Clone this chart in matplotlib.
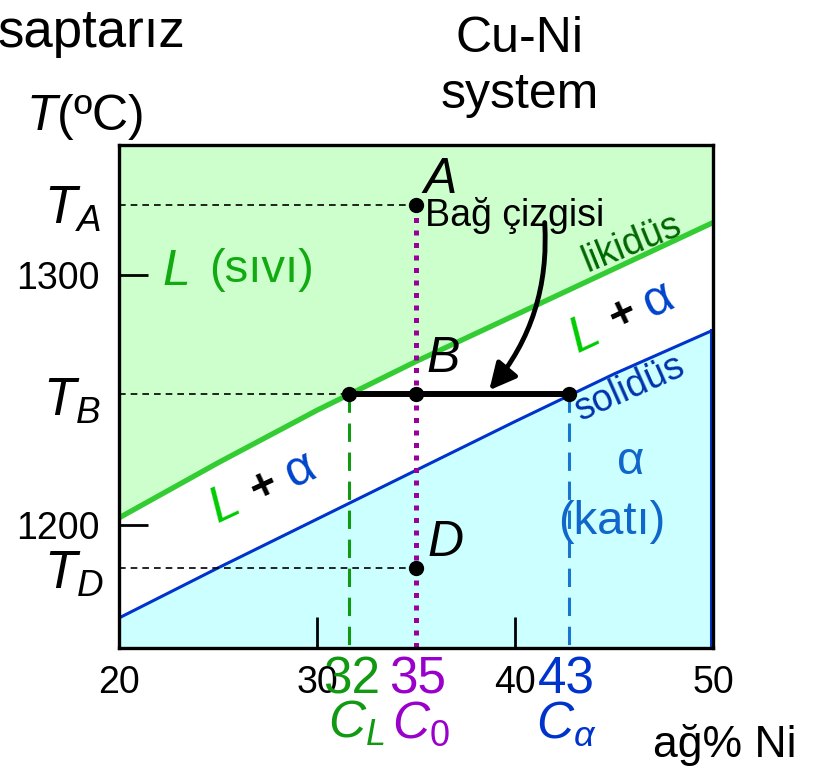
import matplotlib
matplotlib.use("Agg")
import matplotlib.pyplot as plt

plt.rcParams['font.family'] = ['Liberation Sans', 'DejaVu Sans']
plt.rcParams['mathtext.fontset'] = 'custom'
plt.rcParams['mathtext.rm'] = 'Liberation Sans'
plt.rcParams['mathtext.it'] = 'Liberation Sans:italic'

# Cu-Ni faz diyagrami verisi (ag% Ni, sicaklik C)
comp = [20, 25, 30, 35, 40, 45, 50]
liquidus = [1203, 1225, 1246, 1265.5, 1284, 1302.5, 1321]
solidus = [1163, 1183, 1202.5, 1222, 1241.5, 1260.5, 1278]

# bileşimler (cizimdeki konumlar) ve etiketleri
c_L, c_0, c_alpha = 31.6, 35, 42.75
comp_labels = ['32', '35', '43']
T_A, T_B, T_D = 1328, 1252.5, 1183

x_ticks = [20, 30, 40, 50]
y_ticks = [1200, 1300]
x_min, x_max = 20, 50
y_min, y_max = 1151, 1352

W, H = 825, 766
fig = plt.figure(figsize=(W / 100, H / 100), dpi=100)
ax = fig.add_axes([119 / W, 1 - 648 / H, (713 - 119) / W, (648 - 145) / H])


def ftext(x, y, s, **kw):
    # piksel koordinatlariyla sekil uzerine yazi
    kw.setdefault('ha', 'center')
    kw.setdefault('va', 'center')
    fig.text(x / W, 1 - y / H, s, **kw)


# bolgeler
ax.fill_between(comp, liquidus, y_max, color='#ccffcc', lw=0)
ax.fill_between(comp, y_min, solidus, color='#ccffff', lw=0)
ax.plot(comp, liquidus, color='#33cc33', lw=3.8, solid_capstyle='butt')
ax.plot(comp, solidus, color='#0033cc', lw=2.2)
ax.plot([x_max - 0.1, x_max - 0.1], [solidus[-1], y_min], color='#0033cc', lw=2.2)

# yatay kesikli cizgiler
dash = (0, (4, 3))
ax.plot([x_min, c_0], [T_A, T_A], color='black', lw=1.2, ls=dash)
ax.plot([x_min, c_L], [T_B, T_B], color='black', lw=1.2, ls=dash)
ax.plot([x_min, c_0], [T_D, T_D], color='black', lw=1.2, ls=dash)

# dikey cizgiler
ax.plot([c_L, c_L], [T_B, y_min], color='#119911', lw=2.2, ls=(0, (6, 3.5)))
ax.plot([c_alpha, c_alpha], [T_B, y_min], color='#1a75d1', lw=2.2, ls=(0, (6, 3.5)))
ax.plot([c_0, c_0], [T_A, y_min], color='#990099', lw=3.6, ls=(0, (1, 1.5)))

# bag cizgisi
ax.plot([c_L, c_alpha], [T_B, T_B], color='black', lw=4.3, solid_capstyle='butt')
ax.plot([c_L, c_0, c_alpha], [T_B, T_B, T_B], 'o', color='black', ms=10)
ax.plot([c_0, c_0], [T_A, T_D], 'o', color='black', ms=10)

ax.annotate('', xy=(38.7, 1254), xytext=(41.5, 1321),
            arrowprops=dict(arrowstyle='-|>', color='black', lw=3.5,
                            mutation_scale=40,
                            connectionstyle='arc3,rad=-0.2',
                            shrinkA=0, shrinkB=0))

ax.set_xlim(x_min, x_max)
ax.set_ylim(y_min, y_max)
ax.set_xticks(x_ticks)
ax.set_xticklabels([str(v) for v in x_ticks])
ax.set_yticks(y_ticks)
ax.set_yticklabels([str(v) for v in y_ticks])
ax.tick_params(axis='x', direction='in', length=22, width=2, labelsize=27, pad=12)
ax.tick_params(axis='y', direction='in', length=21, width=2, labelsize=27, pad=14)
for sp in ax.spines.values():
    sp.set_linewidth(2.4)
    sp.set_zorder(5)

# eksen yazilari
ftext(185, 33, 'saptarız', fontsize=38, ha='right')
ftext(520, 52, 'Cu-Ni', fontsize=36, va='baseline')
ftext(520, 108, 'system', fontsize=36, va='baseline')
ftext(85, 117, r'$\it{T}$(ºC)', fontsize=36)
ftext(72, 210, r'$T_A$', fontsize=38)
ftext(72, 402, r'$T_B$', fontsize=38)
ftext(74, 575, r'$T_D$', fontsize=38)
ftext(725, 745, 'ağ% Ni', fontsize=32)

ftext(352, 680, comp_labels[0], fontsize=37, color='#119911')
ftext(418, 680, comp_labels[1], fontsize=37, color='#9900cc')
ftext(566, 680, comp_labels[2], fontsize=37, color='#0033cc')
ftext(356, 724, r'$C_L$', fontsize=37, color='#119911')
ftext(421, 724, r'$C_0$', fontsize=37, color='#9900cc')
ftext(566, 724, r'$C_\alpha$', fontsize=37, color='#0033cc')

# bolge etiketleri
ftext(440, 180, 'A', fontsize=36, style='italic')
ftext(443, 359, 'B', fontsize=36, style='italic')
ftext(446, 543, 'D', fontsize=36, style='italic')
ftext(425, 215, 'Bağ çizgisi', fontsize=27, ha='left')
ftext(632, 243, 'likidüs', fontsize=27, color='#006600', rotation=22)
ftext(630, 388, 'solidüs', fontsize=27, color='#0033aa', rotation=24)

ftext(176, 272, 'L', fontsize=36, style='italic', color='#11aa11')
ftext(262, 270, '(sıvı)', fontsize=34, color='#11aa11')
ftext(631, 462, 'α', fontsize=34, color='#1166cc')
ftext(612, 522, '(katı)', fontsize=34, color='#1166cc')

ftext(585, 335, 'L', fontsize=36, style='italic', color='#00cc00', rotation=25)
ftext(623, 316, '+', fontsize=32, color='black', rotation=25, fontweight='bold')
ftext(658, 300, 'α', fontsize=36, color='#0044cc', rotation=25)
ftext(225, 505, 'L', fontsize=36, style='italic', color='#00cc00', rotation=25)
ftext(264, 488, '+', fontsize=32, color='black', rotation=25, fontweight='bold')
ftext(300, 470, 'α', fontsize=36, color='#0044cc', rotation=25)

fig.savefig('out.png', dpi=100)
